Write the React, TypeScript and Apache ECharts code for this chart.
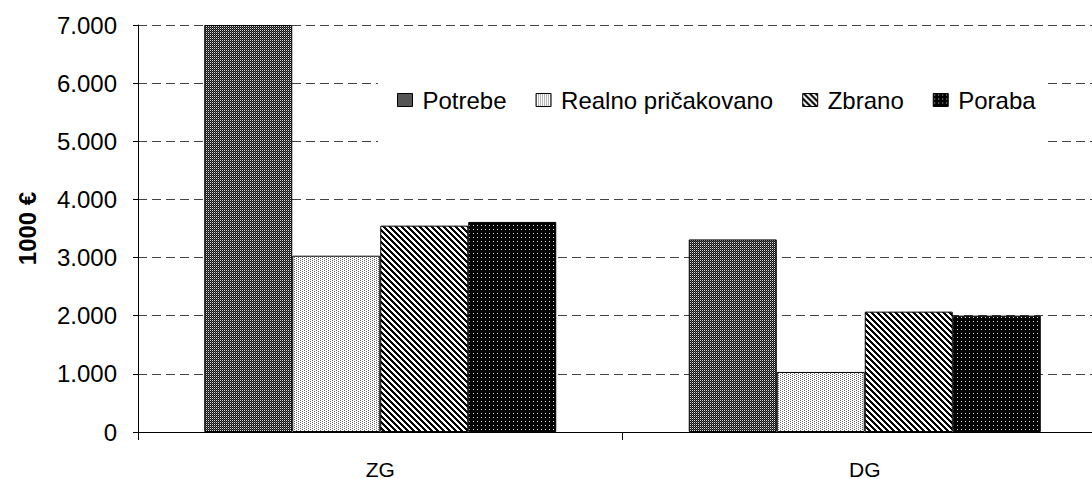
import React, { useEffect, useRef } from "react";
import * as echarts from "echarts";

const categories = ["ZG", "DG"];
const seriesNames = ["Potrebe", "Realno pričakovano", "Zbrano", "Poraba"];
const potrebe = [7000, 3312];
const realno = [3032, 1033];
const zbrano = [3549, 2070];
const poraba = [3613, 2001];
const yMin = 0;
const yMax = 7000;
const yStep = 1000;

const FONT = "'Liberation Sans', Arial, sans-serif";

function makePattern(w: number, h: number, fill: (x: number, y: number) => string) {
  const c = document.createElement("canvas");
  c.width = w;
  c.height = h;
  const ctx = c.getContext("2d")!;
  for (let y = 0; y < h; y++) {
    for (let x = 0; x < w; x++) {
      ctx.fillStyle = fill(x, y);
      ctx.fillRect(x, y, 1, 1);
    }
  }
  return { image: c, repeat: "repeat" } as any;
}

function fmt(v: number) {
  if (v === 0) return "0";
  const s = String(Math.round(v));
  return s.replace(/\B(?=(\d{3})+(?!\d))/g, ".");
}

export default function App() {
  const ref = useRef<HTMLDivElement>(null);
  useEffect(() => {
    if (!ref.current) return;
    const chart = echarts.init(ref.current, undefined, { renderer: "svg" });

    const pPotrebe = makePattern(2, 2, (x, y) =>
      x === 0 && y === 0 ? "#dddddd" : x === 1 && y === 1 ? "#555555" : "#111111"
    );
    const pRealno = makePattern(4, 2, (x, y) =>
      (x === 0 && y === 0) || (x === 2 && y === 1) ? "#666666" : "#ffffff"
    );
    const pZbrano = makePattern(6, 6, (x, y) => ((((x - y) % 6) + 6) % 6 < 3 ? "#000000" : "#ffffff"));
    const pPoraba = makePattern(4, 4, (x, y) => (x === 1 && y === 1 ? "#dddddd" : "#000000"));
    const patterns = [pPotrebe, pRealno, pZbrano, pPoraba];
    const values = [potrebe, realno, zbrano, poraba];

    chart.setOption({
      animation: false,
      backgroundColor: "#ffffff",
      grid: {
        left: 138,
        top: 25,
        width: 969,
        bottom: 47,
        containLabel: false,
        outerBoundsMode: "none",
      },
      legend: {
        left: 378,
        top: 72,
        padding: [16, 12, 38, 19],
        backgroundColor: "#ffffff",
        itemGap: 29,
        itemWidth: 15,
        itemHeight: 13,
        icon: "rect",
        itemStyle: { borderColor: "#000000", borderWidth: 1 },
        textStyle: { fontFamily: FONT, fontSize: 24, color: "#000000", padding: [0, 0, 0, 5] },
        data: seriesNames,
      },
      xAxis: {
        type: "category",
        data: categories,
        axisLine: { show: true, lineStyle: { color: "#000000", width: 1 } },
        axisTick: { show: true, length: 8, lineStyle: { color: "#000000" } },
        axisLabel: {
          fontFamily: FONT,
          fontSize: 21,
          lineHeight: 16,
          color: "#000000",
          margin: 29,
        },
        splitLine: { show: false },
      },
      yAxis: {
        type: "value",
        min: yMin,
        max: yMax,
        interval: yStep,
        name: "1000 €",
        nameLocation: "middle",
        nameRotate: 90,
        nameGap: 99,
        nameTextStyle: { fontFamily: FONT, fontSize: 24, fontWeight: "bold", color: "#000000" },
        axisLine: { show: true, lineStyle: { color: "#000000", width: 1 } },
        axisTick: { show: true, length: 5, lineStyle: { color: "#000000" } },
        axisLabel: { fontFamily: FONT, fontSize: 24, color: "#000000", margin: 21, formatter: fmt },
        splitLine: { show: true, lineStyle: { color: "#444444", width: 1, type: [9, 5] } },
      },
      series: seriesNames.map((name, i) => ({
        name,
        type: "bar",
        data: values[i],
        barWidth: 88,
        barGap: "0%",
        itemStyle: { color: patterns[i], borderColor: "#000000", borderWidth: 1 },
        emphasis: { disabled: true },
      })),
    });
    return () => chart.dispose();
  }, []);
  return (
    <div
      ref={ref}
      style={{ position: "absolute", left: 0, top: 0, width: 1092, height: 479 }}
    />
  );
}
